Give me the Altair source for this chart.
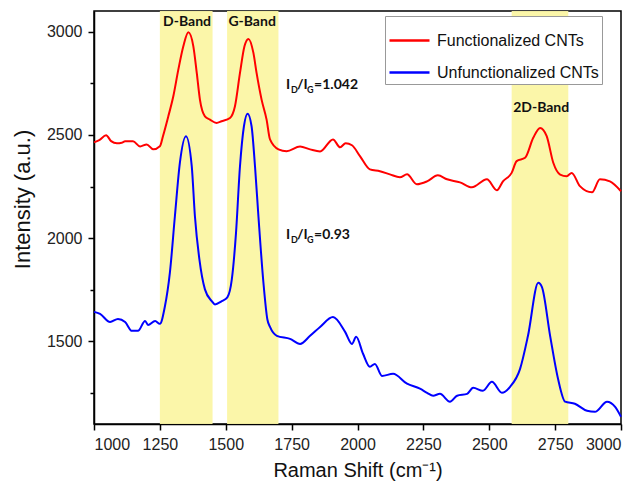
import altair as alt
import pandas as pd

# ---------------- data ----------------
red_x = [1000, 1020, 1046, 1065, 1087, 1105, 1118, 1148, 1175, 1200, 1225, 1250, 1262, 1282, 1301, 1320, 1339, 1358,
         1377, 1390, 1402, 1421, 1440, 1465, 1484, 1516, 1535, 1554, 1571, 1586, 1605, 1617, 1636, 1655, 1668, 1700,
         1731, 1782, 1820, 1858, 1907, 1934, 1955, 1979, 2010, 2047, 2085, 2123, 2161, 2188, 2225, 2264, 2305, 2340,
         2389, 2434, 2491, 2529, 2552, 2585, 2604, 2636, 2667, 2693, 2718, 2743, 2769, 2794, 2813, 2844, 2890, 2920,
         2958, 3000]
red_y = [2464, 2475, 2498, 2470, 2459, 2462, 2469, 2469, 2444, 2454, 2430, 2445, 2495, 2590, 2687, 2816, 2929, 2997,
         2929, 2800, 2671, 2590, 2574, 2558, 2566, 2582, 2639, 2800, 2929, 2965, 2897, 2800, 2671, 2574, 2478, 2430,
         2421, 2444, 2430, 2420, 2478, 2440, 2460, 2450, 2396, 2333, 2324, 2309, 2295, 2309, 2261, 2275, 2304, 2285,
         2270, 2246, 2285, 2232, 2275, 2316, 2373, 2389, 2486, 2534, 2494, 2365, 2308, 2300, 2316, 2252, 2222, 2285,
         2275, 2227]

blue_x = [1000, 1023, 1061, 1091, 1118, 1144, 1167, 1194, 1205, 1232, 1250, 1269, 1288, 1307, 1326, 1349, 1371, 1383,
          1400, 1421, 1447, 1459, 1485, 1506, 1523, 1539, 1554, 1569, 1583, 1598, 1611, 1624, 1643, 1658, 1668, 1694,
          1744, 1782, 1820, 1858, 1907, 1953, 1979, 1995, 2021, 2047, 2066, 2093, 2135, 2188, 2237, 2264, 2287, 2313,
          2351, 2378, 2416, 2439, 2476, 2510, 2548, 2579, 2617, 2647, 2686, 2700, 2731, 2761, 2788, 2825, 2871, 2901,
          2947, 2977, 3000]
blue_y = [1643, 1633, 1594, 1609, 1594, 1551, 1551, 1599, 1580, 1599, 1585, 1669, 1833, 2106, 2366, 2494, 2348, 2106,
          1897, 1752, 1695, 1679, 1695, 1713, 1800, 2027, 2348, 2542, 2603, 2542, 2348, 2106, 1784, 1606, 1570, 1527,
          1512, 1488, 1527, 1570, 1618, 1546, 1488, 1522, 1440, 1377, 1391, 1333, 1343, 1295, 1271, 1251, 1237, 1246,
          1208, 1237, 1246, 1275, 1261, 1304, 1251, 1280, 1367, 1527, 1784, 1763, 1527, 1319, 1208, 1198, 1164, 1159,
          1208, 1184, 1135]

series_names = ["Functionalized CNTs", "Unfunctionalized CNTs"]
series_colors = ["#ff0000", "#0000ff"]

band_start = [1250, 1505, 2585]
band_end = [1450, 1700, 2800]
band_labels = ["D-Band", "G-Band", "2D-Band"]
band_label_x = [1353, 1600, 2697]
band_label_y = [3048, 3048, 2628]

ratio_x = [1729, 1729]
ratio_y = [2720, 1998]
ratio_values = ["=1.042", "=0.93"]

x_ticks = list(range(1000, 3001, 125))
y_ticks = list(range(1250, 3001, 250))

# ---------------- tables ----------------
lines_df = pd.concat([
    pd.DataFrame({"x": red_x, "y": red_y, "s": series_names[0]}),
    pd.DataFrame({"x": blue_x, "y": blue_y, "s": series_names[1]}),
])
bands_df = pd.DataFrame({"x": band_start, "x2": band_end})
blabels_df = pd.DataFrame({"x": band_label_x, "y": band_label_y, "t": band_labels})
ratio_df = pd.DataFrame({"x": ratio_x, "y": ratio_y, "v": ratio_values})

W, H = 527, 413
xscale = alt.Scale(domain=[1000, 3000], nice=False, zero=False)
yscale = alt.Scale(domain=[1100, 3100], nice=False, zero=False)

FONT = "Liberation Sans"

x_axis = alt.Axis(
    values=x_ticks,
    labelExpr="datum.value % 250 == 0 ? format(datum.value, 'd') : ''",
    tickSize={"condition": {"test": "datum.value % 250 == 0", "value": 6}, "value": 4},
    grid=False, domainColor="black", tickColor="black", domainWidth=1.5, tickWidth=1.5,
    labelFont=FONT, labelFontSize=16, labelColor="#222", labelPadding=6,
    title="Raman Shift (cm⁻¹)", titleFont=FONT, titleFontSize=20, titleFontWeight="normal",
    titleColor="#111", titlePadding=8,
)
y_axis = alt.Axis(
    values=y_ticks,
    labelExpr="datum.value % 500 == 0 ? format(datum.value, 'd') : ''",
    tickSize={"condition": {"test": "datum.value % 500 == 0", "value": 6}, "value": 4},
    grid=False, domainColor="black", tickColor="black", domainWidth=1.5, tickWidth=1.5,
    labelFont=FONT, labelFontSize=16, labelColor="#222", labelPadding=6,
    title="Intensity (a.u.)", titleFont=FONT, titleFontSize=22, titleFontWeight="normal",
    titleColor="#111", titleX=-72, titleY=188, titleAlign="center", titleBaseline="middle",
)

bands = alt.Chart(bands_df).mark_rect(color="#fbf6a4", opacity=0.95).encode(
    x=alt.X("x:Q", scale=xscale, axis=x_axis),
    x2="x2:Q",
)

lines = alt.Chart(lines_df).mark_line(strokeWidth=2, interpolate="monotone").encode(
    x=alt.X("x:Q", scale=xscale),
    y=alt.Y("y:Q", scale=yscale, axis=y_axis),
    color=alt.Color("s:N", scale=alt.Scale(domain=series_names, range=series_colors),
                    legend=alt.Legend(
                        title=None, orient="none", legendX=291, legendY=5,
                        symbolType="stroke", symbolSize=1600, symbolStrokeWidth=2.5,
                        labelFont=FONT, labelFontSize=16, labelColor="#111", labelLimit=0,
                        strokeColor="#999", fillColor="white", padding=3,
                        rowPadding=2, labelOffset=6, symbolOffset=0,
                    )),
    detail="s:N",
)

band_text = alt.Chart(blabels_df).mark_text(
    font="Lato", fontWeight="bold", fontSize=14, color="#111", baseline="middle"
).encode(x=alt.X("x:Q", scale=xscale), y=alt.Y("y:Q", scale=yscale), text="t:N")

def piece(text_field, dx, size, dy):
    return alt.Chart(ratio_df).mark_text(
        font="Lato", fontWeight="bold", fontSize=size, color="#111",
        align="left", baseline="alphabetic", dx=dx, dy=dy
    ).encode(x=alt.X("x:Q", scale=xscale), y=alt.Y("y:Q", scale=yscale), text=text_field)

ratio_layers = [
    piece(alt.value("I"), 0, 14, 0),
    piece(alt.value("D"), 5, 9, 4),
    piece(alt.value("/I"), 11, 14, 0),
    piece(alt.value("G"), 21, 9, 4),
    piece("v:N", 28, 14, 0),
]

chart = alt.layer(bands, lines, band_text, *ratio_layers).properties(
    width=W, height=H,
    autosize=alt.AutoSizeParams(type="none"),
    padding={"left": 94, "top": 11, "right": 21, "bottom": 63},
    background="white",
).configure_view(stroke="black", strokeWidth=1.5)

chart.save("out.html", embed_options={"renderer": "svg", "actions": False})
